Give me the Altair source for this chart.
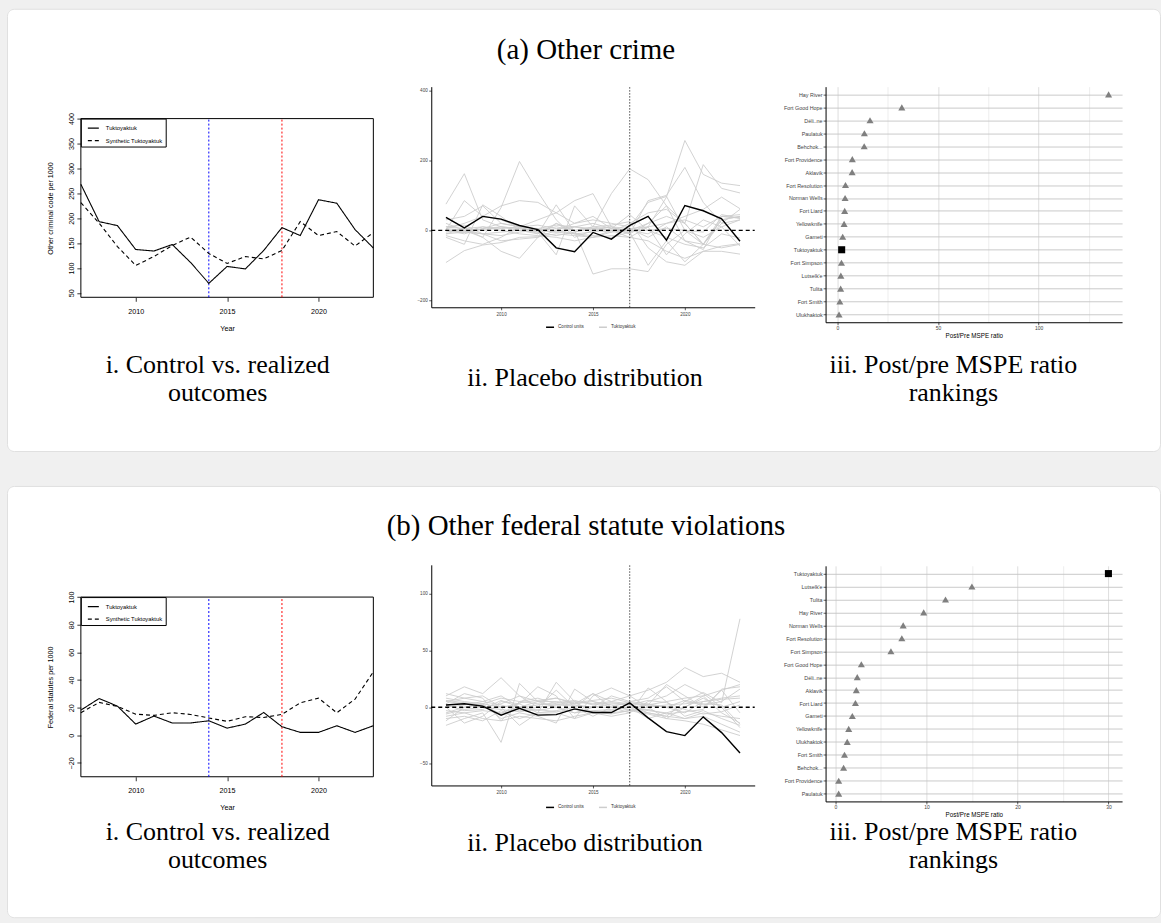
import altair as alt
import pandas as pd

# ----------------------------------------------------------------- data
years = list(range(2007, 2024))
x_ticks = [2010, 2015, 2020]
treat_year, post_year, placebo_year = 2014, 2018, 2017

series_i = ["Tuktoyaktuk", "Synthetic Tuktoyaktuk"]
series_ii = ["Control units", "Tuktoyaktuk"]

titles = ["(a) Other crime", "(b) Other federal statute violations"]
cap_i = ["i. Control vs. realized", "outcomes"]
cap_ii = ["ii. Placebo distribution"]
cap_iii = ["iii. Post/pre MSPE ratio", "rankings"]
x_title_i = "Year"
x_title_iii = "Post/Pre MSPE ratio"

# (a) Other crime
a_ylabel = "Other criminal code per 1000"
a_tuk = [268, 193, 185, 137, 134, 147, 111, 69, 103, 98, 135, 181, 165, 237, 230, 177, 140]
a_synth = [231, 190, 143, 105, 123, 145, 162, 129, 109, 123, 118, 135, 193, 165, 173, 144, 171]
a_gap = [37, 7, 40, 32, 14, 2, -50, -61, -6, -25, 14, 40, -28, 71, 56, 33, -31]
a_placebo = [
    [75, 162, 30, 10, 5, 0, -5, 10, 20, 5, -10, 20, 40, 20, -40, 30, 40],
    [20, 0, -20, 65, 197, 110, 30, -20, 0, 10, 5, -20, 10, -30, -40, 40, 45],
    [-92, -58, -42, -35, -20, -18, -10, -15, -20, -5, 0, 0, 5, 0, -5, 45, 35],
    [10, 5, 0, 10, 0, -10, 20, 0, 10, 105, 176, 145, 70, 20, -40, -50, -40],
    [0, -10, 5, 20, 10, 5, 0, -10, -20, 0, 5, 10, 95, 257, 160, 135, 128],
    [5, 20, 40, 30, 10, -5, -15, -5, 5, 10, -10, 85, 100, 180, 80, 20, 30],
    [-10, -5, 10, 5, 10, 15, 5, 10, 0, -5, 20, 50, 60, 20, 188, 120, 107],
    [0, -5, -10, -15, -5, 0, 10, 0, -125, -110, -110, -118, -40, 0, -20, 10, 30],
    [-15, -30, -40, -20, 10, 30, 50, 85, 105, 10, -5, 10, 20, 40, 60, 95, 62],
    [30, 40, 70, 20, 10, -10, 73, -5, 10, 15, 25, -50, -90, -100, -60, -60, -68],
    [-20, -40, 73, 40, 0, -5, -70, 70, 10, 0, 0, 20, 70, -30, -55, 40, 35],
    [0, 85, 40, 70, 85, 80, 50, 20, 30, 20, 10, 80, 97, 0, -40, 30, 40],
    [-5, 5, 10, 0, -10, -15, -20, -30, -20, -15, -20, -30, -60, -80, -60, -45, -38],
    [10, 15, -10, -30, -25, -20, 0, 20, 40, 5, 45, 0, -20, -40, -50, -10, -22],
    [2, -5, 5, 10, 5, 0, -5, -10, -5, 5, 0, -10, 20, 30, 10, 40, 35],
    [-10, 5, -20, -60, -80, -20, 20, -10, -15, -20, -5, -100, -30, -90, -40, 20, 60],
    [5, 0, -10, -5, 0, 5, 15, 10, 5, 0, -20, 10, -70, -10, 30, 10, -45],
]
a_names = ["Hay River", "Fort Good Hope", "Déli..ne", "Paulatuk", "Behchok...",
           "Fort Providence", "Aklavik", "Fort Resolution", "Norman Wells",
           "Fort Liard", "Yellowknife", "Gameti", "Tuktoyaktuk", "Fort Simpson",
           "Lutselk'e", "Tulita", "Fort Smith", "Ulukhaktok"]
a_ratio = [134.8, 32.0, 16.2, 13.4, 13.3, 7.4, 7.3, 4.0, 3.8, 3.6, 3.3, 2.6,
           2.1, 2.0, 1.7, 1.6, 1.2, 0.8]

# (b) Other federal statute violations
b_ylabel = "Federal statutes per 1000"
b_tuk = [18.2, 26.6, 21.1, 8.1, 13.9, 8.9, 8.9, 10.5, 5.2, 8.1, 16.5, 6.2, 2.1, 2.1, 6.9, 2.1, 6.9]
b_synth = [16.3, 23.8, 20.9, 15.3, 14.4, 16.3, 15.1, 12.5, 10.1, 13.4, 12.9, 15.1, 23.5, 26.9, 16.3, 26.2, 45.9]
b_gap = [2, 3, 1, -7, -1, -7, -6.5, -1.5, -4.7, -4.7, 3.8, -9.4, -21.5, -25, -8.5, -22.4, -40.3]
b_placebo = [
    [10, 18, 12, 26, 10, 5, 8, 3, 12, 5, 10, 15, 22, 35, 27, 30, 22],
    [-16, -10, -5, -31, 21, 5, 0, -5, 0, 3, 2, -5, -8, 5, 13, 4, 78],
    [5, 8, 10, 0, -16, -5, 22, 5, -5, -3, 0, 2, 20, 10, 0, 15, 20],
    [0, -14, -8, 5, 3, 18, 10, -10, 10, 17, 10, 0, -10, 0, 10, -5, -14],
    [-5, 0, 3, -10, -5, -8, -14, 16, 5, 0, -5, 17, 5, -8, -3, -10, -16],
    [8, 5, 3, 8, 5, 3, 2, 1, 0, 0, -2, -5, -8, -10, -8, -15, -22],
    [-8, -5, -3, -5, 0, 5, 5, 3, 5, 2, -3, -6, -10, -12, -15, -20, -25],
    [3, 12, 8, -12, 5, 8, 3, 2, 0, 10, 5, 3, 0, -5, 5, 8, 10],
    [-10, -8, -12, -3, -10, -5, -5, -10, -5, -8, -5, 5, 10, 20, 12, 0, 5],
    [5, 3, 0, 3, 10, 0, 15, 0, 12, 0, 5, 8, 18, 5, 2, 5, 16],
    [0, 2, 5, 10, 0, -3, 0, -5, -3, -2, 0, -3, -5, -10, -5, -8, -10],
    [-3, -5, -10, -12, -8, -10, -12, -8, -5, -5, -3, 0, 2, 3, 5, 7, 8],
    [12, 8, 5, 2, -3, 0, 2, 5, 3, 5, 3, 2, 5, 8, 10, 15, -5],
    [-12, 0, 3, 0, 3, -5, -3, 0, -8, 0, 0, -10, -5, 0, 8, 0, -18],
    [2, -3, -2, 6, 0, 2, 4, 6, 2, 4, 2, 6, 4, -2, -6, -4, 2],
    [-6, -2, 0, -2, -4, -2, -4, -2, -4, -6, -3, -2, -6, -4, -2, 16, 18],
    [6, 4, 2, -6, 4, 6, 8, 4, 6, 8, 4, 2, 0, 6, 3, 2, -15],
]
b_names = ["Tuktoyaktuk", "Lutselk'e", "Tulita", "Hay River", "Norman Wells",
           "Fort Resolution", "Fort Simpson", "Fort Good Hope", "Déli..ne",
           "Aklavik", "Fort Liard", "Gameti", "Yellowknife", "Ulukhaktok",
           "Fort Smith", "Behchok...", "Fort Providence", "Paulatuk"]
b_ratio = [30.0, 15.0, 12.1, 9.7, 7.45, 7.3, 6.1, 2.85, 2.4, 2.3, 2.2, 1.86,
           1.46, 1.3, 1.0, 0.9, 0.36, 0.36]

# ----------------------------------------------------------------- layout
SANS = "Liberation Sans"
SERIF = "Liberation Serif"
OX = 6
W = 1155
ONE = pd.DataFrame({"k": [0]})

rows = [
    dict(data=dict(title=titles[0], tuk=a_tuk, synth=a_synth, gap=a_gap, plac=a_placebo,
                   names=a_names, ratio=a_ratio, ylab=a_ylabel,
                   i_dom=[41, 400], i_ticks=[50, 100, 150, 200, 250, 300, 350, 400],
                   ii_dom=[-220, 411], ii_ticks=[-200, 0, 200, 400],
                   iii_dom=[-5.9, 141.5], iii_major=[0, 50, 100], iii_minor=[25, 75, 125]),
         geo=dict(top=7, height=443, title=(586, 48),
                  i=(80, 373, 117, 296), ii=(431, 755, 85, 306), iii=(826, 1123, 85, 321),
                  leg_ii=(545, 324),
                  caps=[(217, [364, 392]), (585, [377]), (954, [364, 392])])),
    dict(data=dict(title=titles[1], tuk=b_tuk, synth=b_synth, gap=b_gap, plac=b_placebo,
                   names=b_names, ratio=b_ratio, ylab=b_ylabel,
                   i_dom=[-30, 100], i_ticks=[-20, 0, 20, 40, 60, 80, 100],
                   ii_dom=[-69, 125.6], ii_ticks=[-50, 0, 50, 100],
                   iii_dom=[-1.08, 31.5], iii_major=[0, 10, 20, 30], iii_minor=[5, 15, 25]),
         geo=dict(top=483, height=432, title=(586, 523),
                  i=(80, 373, 594.3, 774.3), ii=(431, 755, 562, 783), iii=(826, 1123, 563, 799),
                  leg_ii=(545, 803),
                  caps=[(217, [830, 858]), (585, [841]), (954, [830, 858])])),
]


def txt(s, x, y, size=26):
    return alt.Chart(pd.DataFrame({"t": [s]})).mark_text(
        font=SERIF, fontSize=size, color="black", align="center", baseline="middle", x=x, y=y
    ).encode(text="t:N")


def panel_i(d, g, top, H):
    x0, x1, yt, yb = g["i"]
    xs = alt.Scale(domain=[years[0], years[-1]], range=[x0 - OX, x1 - OX], nice=False, zero=False)
    ys = alt.Scale(domain=d["i_dom"], range=[yb - top, yt - top], nice=False, zero=False)
    xaxis = alt.Axis(orient="bottom", offset=(yb - top) - H, values=x_ticks, format="d",
                     grid=False, domain=False, tickSize=4, tickColor="black", tickWidth=0.8,
                     labelFont=SANS, labelFontSize=7.2, labelColor="black", labelPadding=6,
                     labelFlush=False, labelOverlap=False,
                     title=x_title_i, titleFont=SANS, titleFontSize=7.2, titleFontWeight="normal",
                     titleColor="black", titleY=31, titleBaseline="middle")
    yaxis = alt.Axis(orient="left", offset=-(x0 - OX), values=d["i_ticks"], grid=False,
                     domain=False, tickSize=4, tickColor="black", tickWidth=0.8,
                     labelFont=SANS, labelFontSize=7.2, labelColor="black", labelAngle=270,
                     labelAlign="center", labelBaseline="bottom", labelPadding=1.5,
                     labelFlush=False, labelOverlap=False,
                     title=d["ylab"], titleFont=SANS, titleFontSize=7.2, titleFontWeight="normal",
                     titleColor="black", titleAngle=270, titleX=-30, titleAlign="center",
                     titleBaseline="middle")
    n = len(years)
    df = pd.DataFrame({"year": years + years, "value": d["tuk"] + d["synth"],
                       "series": [series_i[0]] * n + [series_i[1]] * n})
    leg = alt.Legend(orient="none", legendX=x0 - OX, legendY=yt - top, title=None,
                     direction="vertical", fillColor="white", strokeColor="black", padding=3,
                     cornerRadius=0, symbolType="stroke", symbolSize=121, symbolStrokeWidth=1.2,
                     symbolStrokeColor="black", symbolOffset=3, labelFont=SANS,
                     labelFontSize=5.8, labelColor="black", labelOffset=6, rowPadding=2.5,
                     labelLimit=0)
    lines = alt.Chart(df).mark_line(color="black", strokeWidth=1.1).encode(
        x=alt.X("year:Q", scale=xs, axis=xaxis),
        y=alt.Y("value:Q", scale=ys, axis=yaxis),
        strokeDash=alt.StrokeDash("series:N", scale=alt.Scale(domain=series_i, range=[[1, 0], [4, 3]]),
                                  legend=leg),
    )

    def vrule(xv, color):
        return alt.Chart(ONE).mark_rule(color=color, strokeDash=[2, 2], strokeWidth=1).encode(
            x=alt.XDatum(xv, type="quantitative", scale=xs, axis=xaxis),
            y=alt.YDatum(d["i_dom"][0], type="quantitative", scale=ys, axis=yaxis),
            y2=alt.Y2Datum(d["i_dom"][1]),
        )

    frame = alt.Chart(ONE).mark_rect(fill="transparent", stroke="black", strokeWidth=1).encode(
        x=alt.XDatum(years[0], type="quantitative", scale=xs, axis=xaxis),
        x2=alt.X2Datum(years[-1]),
        y=alt.YDatum(d["i_dom"][0], type="quantitative", scale=ys, axis=yaxis),
        y2=alt.Y2Datum(d["i_dom"][1]),
    )
    return alt.layer(frame, vrule(treat_year, "#0000ff"), vrule(post_year, "#ff0000"), lines)


def panel_ii(d, g, top, H):
    x0, x1, yt, yb = g["ii"]
    xdom = [2006.2, 2023.8]
    xs = alt.Scale(domain=xdom, range=[x0 - OX, x1 - OX], nice=False, zero=False)
    ys = alt.Scale(domain=d["ii_dom"], range=[yb - top, yt - top], nice=False, zero=False)
    xaxis = alt.Axis(orient="bottom", offset=(yb - top) - H, values=x_ticks, format="d",
                     grid=False, domain=True, domainColor="black", domainWidth=1,
                     tickSize=2.5, tickColor="#333333", tickWidth=0.8,
                     labelFont=SANS, labelFontSize=4.6, labelColor="#444444", labelPadding=1.5,
                     labelFlush=False, labelOverlap=False, title=None)
    yaxis = alt.Axis(orient="left", offset=-(x0 - OX), values=d["ii_ticks"], grid=False,
                     domain=True, domainColor="black", domainWidth=1,
                     tickSize=2.5, tickColor="#333333", tickWidth=0.8,
                     labelFont=SANS, labelFontSize=4.6, labelColor="#444444", labelPadding=1.5,
                     labelFlush=False, labelOverlap=False, title=None)
    rows_ = []
    for k, ser in enumerate(d["plac"]):
        for yr, v in zip(years, ser):
            rows_.append({"year": yr, "value": v, "unit": k, "grp": series_ii[1]})
    grey_df = pd.DataFrame(rows_)
    black_df = pd.DataFrame({"year": years, "value": d["gap"], "grp": series_ii[0]})
    cs = alt.Scale(domain=series_ii, range=["black", "#cdcdcd"])
    lx, ly = g["leg_ii"]
    leg = alt.Legend(orient="none", legendX=lx - OX, legendY=ly - top - 3, title=None,
                     direction="horizontal", symbolType="stroke", symbolSize=64,
                     symbolStrokeWidth=1.5, labelFont=SANS, labelFontSize=4.6,
                     labelColor="#333333", labelOffset=3, columnPadding=12, padding=0)
    grey = alt.Chart(grey_df).mark_line(strokeWidth=0.9).encode(
        x=alt.X("year:Q", scale=xs, axis=xaxis),
        y=alt.Y("value:Q", scale=ys, axis=yaxis),
        detail="unit:N",
        color=alt.Color("grp:N", scale=cs, legend=leg),
    )
    black = alt.Chart(black_df).mark_line(strokeWidth=1.4).encode(
        x=alt.X("year:Q", scale=xs, axis=xaxis),
        y=alt.Y("value:Q", scale=ys, axis=yaxis),
        color=alt.Color("grp:N", scale=cs, legend=leg),
    )
    vline = alt.Chart(ONE).mark_rule(color="black", strokeDash=[1.5, 1.5], strokeWidth=0.7).encode(
        x=alt.XDatum(placebo_year, type="quantitative", scale=xs, axis=xaxis),
        y=alt.YDatum(d["ii_dom"][0], type="quantitative", scale=ys, axis=yaxis),
        y2=alt.Y2Datum(d["ii_dom"][1]),
    )
    hline = alt.Chart(ONE).mark_rule(color="black", strokeDash=[4, 3], strokeWidth=1.4).encode(
        x=alt.XDatum(xdom[0], type="quantitative", scale=xs, axis=xaxis),
        x2=alt.X2Datum(xdom[1]),
        y=alt.YDatum(0, type="quantitative", scale=ys, axis=yaxis),
    )
    return alt.layer(grey, vline, black, hline)


def panel_iii(d, g, top, H):
    x0, x1, yt, yb = g["iii"]
    xs = alt.Scale(domain=d["iii_dom"], range=[x0 - OX, x1 - OX], nice=False, zero=False)
    ys = alt.Scale(type="point", domain=d["names"], range=[yt - top, yb - top], padding=0.6)
    df = pd.DataFrame({"name": d["names"], "ratio": d["ratio"],
                       "kind": ["tuk" if nm == "Tuktoyaktuk" else "other" for nm in d["names"]]})
    major = d["iii_major"]
    xaxis = alt.Axis(orient="bottom", offset=(yb - top) - H, values=major, grid=False,
                     domain=True, domainColor="black", domainWidth=1,
                     tickSize=2.5, tickColor="#333333", tickWidth=0.8,
                     labelFont=SANS, labelFontSize=5.0, labelColor="#444444", labelPadding=0.5,
                     labelFlush=False, labelOverlap=False,
                     title=x_title_iii, titleFont=SANS, titleFontSize=6.3, titleFontWeight="normal",
                     titleColor="black", titleY=13, titleBaseline="middle")
    gaxis = alt.Axis(orient="top", values=sorted(major + d["iii_minor"]), grid=True,
                     gridColor={"condition": {"test": "indexof(%s, datum.value) >= 0" % str(major),
                                              "value": "#dadada"}, "value": "#ebebeb"},
                     gridWidth=0.9, domain=False, ticks=False, labels=False, title=None)
    yaxis = alt.Axis(orient="left", offset=-(x0 - OX), grid=True, gridColor="#c4c4c4",
                     gridWidth=0.9, domain=True, domainColor="black", domainWidth=1,
                     tickSize=2.5, tickColor="#333333", tickWidth=0.8,
                     labelFont=SANS, labelFontSize=5.4, labelColor="#444444", labelPadding=1,
                     labelOverlap=False, labelLimit=0, title=None)
    gridl = alt.Chart(df).mark_point(opacity=0).encode(
        x=alt.X("ratio:Q", scale=xs, axis=gaxis),
        y=alt.Y("name:N", scale=ys, axis=yaxis),
    )
    pts = alt.Chart(df).mark_point(filled=True, opacity=1, size=50).encode(
        x=alt.X("ratio:Q", scale=xs, axis=xaxis),
        y=alt.Y("name:N", scale=ys, axis=yaxis),
        shape=alt.Shape("kind:N", scale=alt.Scale(domain=["other", "tuk"], range=["triangle-up", "square"]),
                        legend=None),
        color=alt.Color("kind:N", scale=alt.Scale(domain=["other", "tuk"], range=["#7f7f7f", "black"]),
                        legend=None),
    )
    return alt.layer(gridl, pts).resolve_axis(x="independent")


def build_row(r):
    d, g = r["data"], r["geo"]
    top, H = g["top"], g["height"]
    layers = [txt(d["title"], g["title"][0] - OX, g["title"][1] - top, size=29)]
    for lines_txt, (cx, ys_) in zip([cap_i, cap_ii, cap_iii], g["caps"]):
        for s, yy in zip(lines_txt, ys_):
            layers.append(txt(s, cx - OX, yy - top))
    layers.append(panel_i(d, g, top, H))
    layers.append(panel_ii(d, g, top, H))
    layers.append(panel_iii(d, g, top, H))
    return alt.layer(*layers).resolve_scale(
        x="independent", y="independent", color="independent",
        strokeDash="independent", shape="independent"
    ).properties(width=W, height=H)


chart = alt.vconcat(build_row(rows[0]), build_row(rows[1]), spacing=33).properties(
    background="#f0f0f0",
    padding={"left": 6, "top": 7, "right": 0, "bottom": 8},
).configure_view(fill="white", stroke="#e0e0e0", strokeWidth=1, cornerRadius=7)

chart.save("out.html", embed_options={"renderer": "svg", "actions": False})
